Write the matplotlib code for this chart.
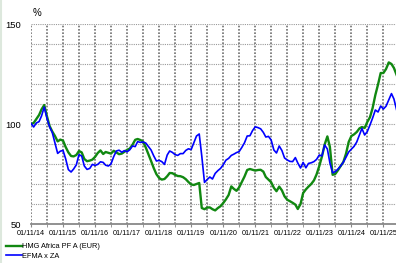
import matplotlib
matplotlib.use("Agg")
import matplotlib.pyplot as plt
import matplotlib.dates as mdates
import matplotlib.ticker as mticker
from matplotlib.lines import Line2D
import pandas as pd

# monthly values, Nov 2014 onwards (indexed, start = 100)
dates = pd.date_range("2014-11-01", periods=138, freq="MS")

hmg_africa = [
    100.0, 100.5, 102.5, 104.5, 107.3, 109.5, 104.0, 99.0, 96.3, 94.0,
    91.3, 92.2, 91.7, 88.5, 85.8, 84.0, 83.8, 84.5, 86.5, 85.8,
    82.5, 81.4, 81.7, 82.2, 83.6, 85.5, 86.8, 85.0, 86.0, 85.6,
    85.2, 86.6, 85.8, 84.9, 85.2, 86.1, 87.1, 87.7, 89.6, 92.1,
    92.5, 92.0, 91.3, 88.3, 85.0, 81.5, 77.9, 74.9, 73.0, 72.2,
    72.5, 73.9, 75.5, 75.4, 74.6, 74.0, 73.9, 73.4, 72.4, 71.0,
    69.8, 69.5, 70.0, 70.5, 58.0, 57.4, 58.2, 58.3, 57.4, 56.8,
    58.0, 58.9, 60.5, 62.3, 64.5, 68.8, 67.6, 66.6, 68.3, 71.0,
    73.7, 77.0, 77.5, 77.1, 76.7, 77.0, 77.1, 76.2, 73.5, 72.2,
    70.9, 68.1, 66.4, 68.7, 66.8, 63.8, 62.1, 61.4, 60.6, 59.7,
    57.5, 60.0, 65.5, 67.3, 68.7, 70.0, 71.8, 74.8, 79.0, 83.7,
    89.7, 93.8, 88.5, 74.6, 75.0, 76.9, 78.9, 81.0, 85.2, 91.0,
    94.0, 94.8, 96.0, 97.8, 98.5, 98.0, 101.0, 103.4, 108.0, 114.5,
    119.8, 125.5, 125.5, 127.5, 130.8, 130.0, 128.0, 124.5,
]

efma_x_za = [
    100.3, 98.5, 100.5, 101.2, 104.0, 108.5, 103.0, 98.5, 95.8, 90.5,
    85.3, 86.4, 86.8, 82.6, 77.2, 76.0, 77.5, 79.6, 84.7, 84.0,
    79.0, 77.3, 77.8, 79.8, 79.3, 79.8, 81.1, 80.8, 79.4, 79.0,
    80.0, 83.7, 86.5, 86.9, 85.9, 86.7, 86.1, 87.1, 89.0, 88.7,
    91.2, 90.8, 91.0, 90.5, 88.8, 87.0, 84.0, 81.5, 81.8, 81.2,
    79.8, 84.5, 86.5, 85.8, 84.7, 84.3, 85.2, 85.2, 86.8, 87.6,
    87.2, 90.6, 94.0, 95.0, 84.0, 70.8, 72.2, 73.5, 72.5, 75.3,
    76.7, 77.8, 79.6, 81.9, 82.8, 84.3, 84.9, 85.7, 86.2, 88.3,
    90.6, 94.0, 94.1, 96.7, 98.6, 98.2, 97.6, 95.8, 93.5, 93.8,
    92.0, 87.0, 85.5, 89.0, 86.7, 83.0, 82.0, 81.3, 81.2, 83.2,
    80.5, 78.0, 80.8, 78.1, 80.3, 80.6, 81.2, 82.3, 84.5, 84.0,
    89.5, 87.5, 80.5, 75.6, 76.2, 77.5, 79.0, 80.9, 83.4, 86.0,
    87.4, 88.8, 91.0, 94.5, 97.8, 94.5, 96.2, 99.5, 103.0, 107.0,
    106.0, 109.0, 107.5, 108.9, 112.0, 115.2, 112.5, 107.0,
]

series_names = ["HMG Africa PF A (EUR)", "EFMA x ZA"]
colors = ["#118811", "#0000ff"]

W, H = 396, 263
fig = plt.figure(figsize=(W / 100, H / 100), dpi=100)
ax = fig.add_axes([31 / W, 39 / H, 371 / W, 200 / H])

ax.plot(dates, hmg_africa, color=colors[0], lw=1.7, label=series_names[0], zorder=3)
ax.plot(dates, efma_x_za, color=colors[1], lw=1.2, label=series_names[1], zorder=4)

ax.set_xlim(pd.Timestamp("2014-11-01"), pd.Timestamp("2026-06-01"))
ax.set_ylim(50, 150)

ax.xaxis.set_major_locator(mdates.MonthLocator(bymonth=11))
ax.xaxis.set_minor_locator(mdates.MonthLocator(bymonth=5))
ax.xaxis.set_major_formatter(mdates.DateFormatter("%d/%m/%y"))
ax.yaxis.set_major_locator(mticker.MultipleLocator(50))
ax.yaxis.set_minor_locator(mticker.MultipleLocator(10))

ax.grid(axis="x", which="both", color="#707070", ls=(0, (1, 1)), lw=1.2)
ax.grid(axis="y", which="both", color="#999999", ls=(0, (1, 1)), lw=0.8)

for s in ["top", "right", "left"]:
    ax.spines[s].set_visible(False)
ax.spines["bottom"].set_color("#888888")
ax.spines["bottom"].set_linewidth(1.3)

ax.tick_params(axis="y", which="both", length=0, pad=7, labelsize=6.8)
ax.tick_params(axis="x", which="major", length=2.5, color="#888888", pad=2, labelsize=5.2)
ax.tick_params(axis="x", which="minor", length=2.5, color="#888888")
for lab in ax.get_xticklabels() + ax.get_yticklabels():
    lab.set_family("Liberation Sans")

fig.text(33 / W, 1 - 13 / H, "%", fontsize=7, family="Liberation Sans", va="center")

leg = fig.legend(loc="upper left", bbox_to_anchor=(6 / W, 1 - 243 / H),
                 frameon=False, prop={"family": "Liberation Sans", "size": 5.3},
                 handlelength=2.2, handletextpad=0.0, labelspacing=0.35,
                 borderaxespad=0, borderpad=0)

# faint frame edge at the left of the picture
fig.add_artist(Line2D([0.003, 0.003], [0, 1], color="#dde8dd", lw=1.5))

fig.savefig("out.png", dpi=100)
